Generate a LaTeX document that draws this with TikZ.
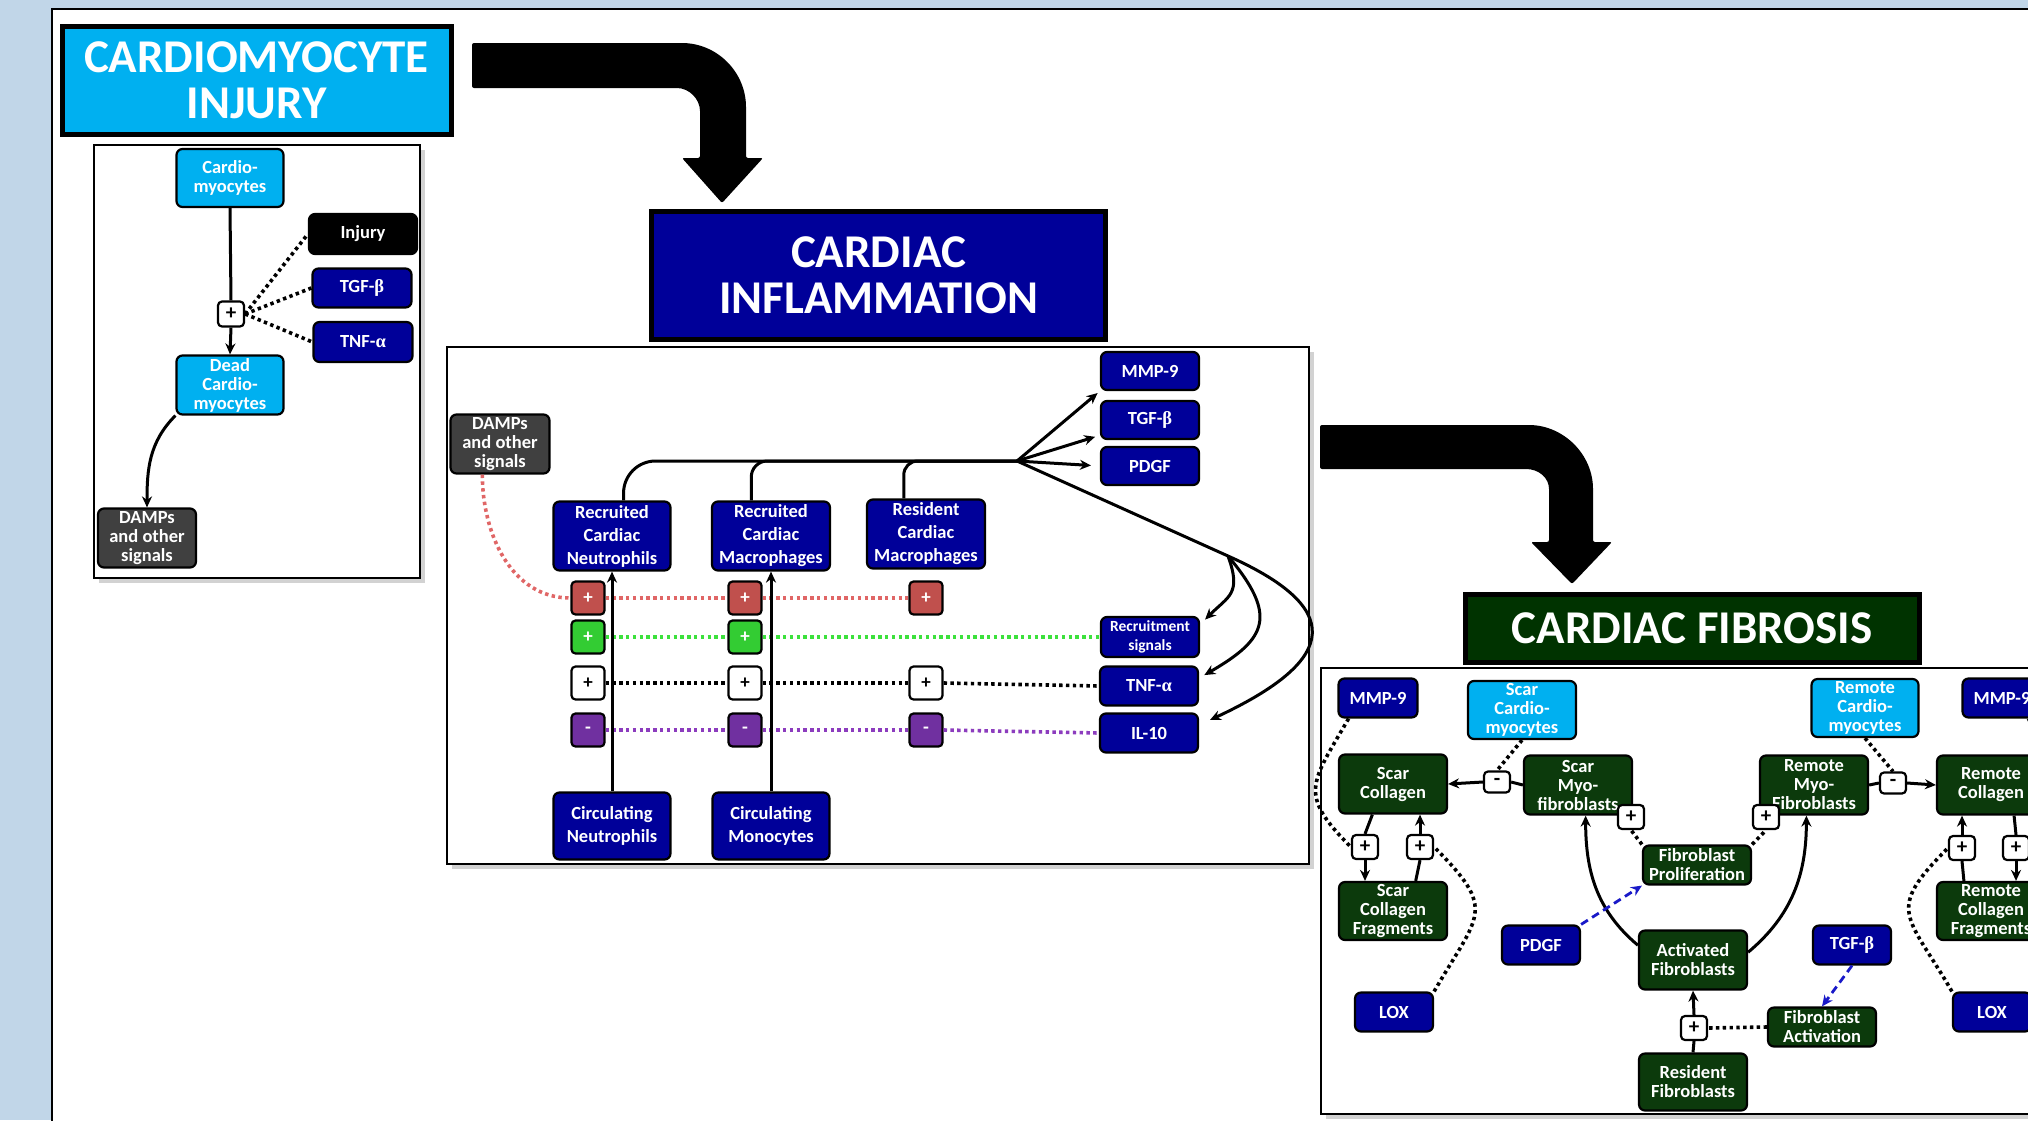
\documentclass[tikz,border=0pt]{standalone}
\usepackage{fontspec}
\setmainfont{Carlito}
\newfontfamily\greekfont{Liberation Serif}
\usetikzlibrary{arrows.meta, positioning, shadows}

\definecolor{bgblue}{RGB}{193,214,232}
\definecolor{cmcyan}{RGB}{0,176,240}
\definecolor{navyblue}{RGB}{0,0,153}
\definecolor{titlegreen}{RGB}{0,51,0}
\definecolor{fibgreen}{RGB}{12,58,12}
\definecolor{damgrey}{RGB}{64,64,64}
\definecolor{sigred}{RGB}{192,80,77}
\definecolor{siggreen}{RGB}{51,204,51}
\definecolor{sigpurple}{RGB}{112,48,160}
\definecolor{dotred}{RGB}{224,102,102}
\definecolor{dotgreen}{RGB}{60,225,60}
\definecolor{dotpurple}{RGB}{140,60,190}
\definecolor{dashblue}{RGB}{25,25,200}

\newcommand{\gk}[1]{{\greekfont #1}}

\begin{document}
\begin{tikzpicture}[x=1pt, y=-1pt, >={Stealth[length=11pt,width=10pt]}, line width=3pt]
  % Estilos de cajas y lineas
  \tikzstyle{cellbox} = [draw, line width=2.2pt, rounded corners=6pt, text=white, align=center, inner sep=0pt, font=\bfseries\fontsize{18.5}{19}\selectfont]
  \tikzstyle{cyanbox} = [cellbox, fill=cmcyan, minimum width=107pt, minimum height=58pt]
  \tikzstyle{navybox} = [cellbox, fill=navyblue]
  \tikzstyle{greenbox} = [cellbox, fill=fibgreen, minimum width=108pt]
  \tikzstyle{greybox} = [cellbox, fill=damgrey, minimum width=99pt, minimum height=59pt]
  \tikzstyle{tallnavy} = [navybox, minimum width=117pt, font=\bfseries\fontsize{18.5}{23}\selectfont]
  \tikzstyle{sigbox} = [draw, line width=2.2pt, rounded corners=4pt, minimum width=33pt, minimum height=33pt, inner sep=0pt, font=\bfseries\fontsize{19}{19}\selectfont]
  \tikzstyle{pmbox} = [draw, fill=white, line width=2.2pt, rounded corners=4pt, minimum width=26pt, minimum height=24pt, inner sep=0pt, font=\bfseries\fontsize{21}{21}\selectfont]
  \tikzstyle{headbox} = [draw, line width=5pt, text=white, align=center, inner sep=0pt, font=\bfseries\fontsize{47}{46}\selectfont]
  \tikzstyle{panel} = [draw, line width=2pt, fill=white, drop shadow={shadow xshift=5pt, shadow yshift=-5pt, opacity=0.35}]
  \tikzstyle{dotline} = [line width=3.6pt, dash pattern=on 3.4pt off 3.4pt]
  \tikzstyle{bluedash} = [dashblue, line width=2.8pt, dash pattern=on 8pt off 5pt]

  \useasboundingbox (0,0) rectangle (2028,1120);
  \clip (0,0) rectangle (2028,1120);
  \fill [bgblue] (0,0) rectangle (2028,1120);
  \draw [fill=white, line width=2.5pt] (52,9) rectangle (2100,1200);

  % Flechas grandes entre etapas
  \fill [rounded corners=2pt] (472,43) -- (680,43) .. controls (717,43) and (746,72) .. (746,109) -- (746,158) -- (763,158) -- (722,203) -- (682,158) -- (700,158) -- (700,113) .. controls (700,99) and (689,88) .. (675,88) -- (472,88) -- cycle;
  \fill [rounded corners=2pt] (1320,425) -- (1527,425) .. controls (1563,425) and (1593,454) .. (1593,491) -- (1593,542) -- (1612,542) -- (1572,584) -- (1531,542) -- (1549,542) -- (1549,491) .. controls (1549,478) and (1539,469) .. (1524,469) -- (1320,469) -- cycle;

  % Titulos
  \node [headbox, fill=cmcyan, minimum width=389pt, minimum height=108pt] (tinj) at (256.5,80) {CARDIOMYOCYTE\\INJURY};
  \node [headbox, fill=navyblue, minimum width=454pt, minimum height=128pt] (tinf) at (878.5,275) {CARDIAC\\INFLAMMATION};
  \node [headbox, fill=titlegreen, minimum width=454pt, minimum height=68pt] (tfib) at (1692,628) {CARDIAC FIBROSIS};

  % Paneles
  \draw [panel] (94,145) rectangle (420,578);
  \draw [panel] (447,347) rectangle (1309,864);
  \draw [panel] (1321,668) rectangle (2080,1114);

  % Panel 1: lesion
  \node [cyanbox] (cm1) at (230,178) {Cardio-\\myocytes};
  \node [cellbox, fill=black, minimum width=108pt, minimum height=40pt] (inj) at (363,234) {Injury};
  \node [navybox, minimum width=99pt, minimum height=39pt] (tgf1) at (362,288) {TGF-\gk{β}};
  \node [navybox, minimum width=99pt, minimum height=40pt] (tnf1) at (363,342) {TNF-\gk{α}};
  \node [pmbox, minimum height=25pt] (p1) at (231,314) {+};
  \node [cyanbox, minimum height=59pt] (dcm) at (230,385) {Dead\\Cardio-\\myocytes};
  \node [greybox, minimum width=98pt] (damps1) at (147,538) {DAMPs\\and other\\signals};

  \draw (cm1.south) -- (p1.north);
  \draw [->] (p1.south) -- (dcm.north);
  \draw [dotline] (p1.east) -- (inj.west);
  \draw [dotline] (p1.east) -- (tgf1.west);
  \draw [dotline] (p1.east) -- (tnf1.west);
  \draw [->] (dcm.south west) to[out=-135,in=90] (damps1.north);

  % Panel 2: inflamacion
  \node [greybox] (damps2) at (500,444) {DAMPs\\and other\\signals};
  \node [tallnavy, minimum height=69pt] (rcn) at (612,536) {Recruited\\Cardiac\\Neutrophils};
  \node [tallnavy, minimum width=118pt, minimum height=69pt] (rcm) at (771,536) {Recruited\\Cardiac\\Macrophages};
  \node [tallnavy, minimum width=118pt, minimum height=69pt] (rsm) at (926,534) {Resident\\Cardiac\\Macrophages};
  \node [tallnavy, minimum height=67pt] (cn) at (612,826) {Circulating\\Neutrophils};
  \node [tallnavy, minimum height=67pt] (cmo) at (771,826) {Circulating\\Monocytes};
  \node [navybox, minimum width=98pt, minimum height=38pt] (mmp2) at (1150,371) {MMP-9};
  \node [navybox, minimum width=98pt, minimum height=38pt] (tgf2) at (1150,420) {TGF-\gk{β}};
  \node [navybox, minimum width=98pt, minimum height=38pt] (pdgf2) at (1150,466) {PDGF};
  \node [navybox, minimum width=98pt, minimum height=40pt, font=\bfseries\fontsize{15.5}{19}\selectfont] (recr) at (1150,637) {Recruitment\\signals};
  \node [navybox, minimum width=98pt, minimum height=39pt] (tnf2) at (1149,686) {TNF-\gk{α}};
  \node [navybox, minimum width=98pt, minimum height=39pt] (il10) at (1149,733) {IL-10};

  \node [sigbox, fill=sigred, text=white] (r1) at (588,598) {+};
  \node [sigbox, fill=sigred, text=white] (r2) at (745,598) {+};
  \node [sigbox, fill=sigred, text=white] (r3) at (926,598) {+};
  \node [sigbox, fill=siggreen, text=white] (g1) at (588,637) {+};
  \node [sigbox, fill=siggreen, text=white] (g2) at (745,637) {+};
  \node [sigbox, fill=white] (w1) at (588,683) {+};
  \node [sigbox, fill=white] (w2) at (745,683) {+};
  \node [sigbox, fill=white] (w3) at (926,683) {+};
  \node [sigbox, fill=sigpurple, text=white] (v1) at (588,730) {-};
  \node [sigbox, fill=sigpurple, text=white] (v2) at (745,730) {-};
  \node [sigbox, fill=sigpurple, text=white] (v3) at (926,730) {-};

  \coordinate (hub) at (1017,461);
  \coordinate (split) at (1228,556);

  \draw [dotline, dotred] (damps2.240) to[out=-90,in=180] (r1.west);
  \draw [dotline, dotred] (r1.east) -- (r2.west);
  \draw [dotline, dotred] (r2.east) -- (r3.west);
  \draw [dotline, dotgreen] (g1.east) -- (g2.west);
  \draw [dotline, dotgreen] (g2.east) -- (recr.west);
  \draw [dotline] (w1.east) -- (w2.west);
  \draw [dotline] (w2.east) -- (w3.west);
  \draw [dotline] (w3.east) -- (tnf2.west);
  \draw [dotline, dotpurple] (v1.east) -- (v2.west);
  \draw [dotline, dotpurple] (v2.east) -- (v3.west);
  \draw [dotline, dotpurple] (v3.east) -- (il10.west);

  \draw [->] (cn.north) -- (rcn.south);
  \draw [->] (cmo.north) -- (rcm.south);
  \draw [rounded corners=32pt] (rcn.72) |- (hub);
  \draw [rounded corners=16pt] (rcm.119) |- (hub);
  \draw [rounded corners=14pt] (rsm.122) |- (hub);
  \draw [->, shorten >=3pt] (hub) -- (mmp2.south west);
  \draw [->, shorten >=5pt] (hub) -- (tgf2.197);
  \draw [->, shorten >=9pt] (hub) -- (pdgf2.west);
  \draw (hub) -- (split);
  \draw [->, shorten >=7pt] (split) to[out=-70,in=45,looseness=1.4] (recr.14);
  \draw [->, shorten >=6pt] (split) to[out=-50,in=30,looseness=1.6] (tnf2.9);
  \draw [->, shorten >=12pt] (split) to[out=-24,in=25,looseness=2.1] (il10.9);

  % Panel 3: fibrosis
  \node [navybox, minimum width=79pt, minimum height=39pt] (mmp3) at (1378,698) {MMP-9};
  \node [cyanbox, minimum width=108pt] (scm) at (1522,710) {Scar\\Cardio-\\myocytes};
  \node [cyanbox] (rcm3) at (1865,708) {Remote\\Cardio-\\myocytes};
  \node [navybox, minimum width=79pt, minimum height=39pt] (mmp4) at (2002,698) {MMP-9};
  \node [greenbox, minimum height=59pt] (scol) at (1393,784) {Scar\\Collagen};
  \node [greenbox, minimum height=59pt] (smyo) at (1578,785) {Scar\\Myo-\\fibroblasts};
  \node [greenbox, minimum height=59pt] (rmyo) at (1814,785) {Remote\\Myo-\\Fibroblasts};
  \node [greenbox, minimum height=59pt] (rcol) at (1991,785) {Remote\\Collagen};
  \node [pmbox, minimum height=21pt] (m1) at (1497,782) {-};
  \node [pmbox, minimum height=21pt] (m2) at (1893,783) {-};
  \node [pmbox] (pp1) at (1631,817) {+};
  \node [pmbox] (pp2) at (1766,817) {+};
  \node [pmbox] (pa) at (1365,847) {+};
  \node [pmbox] (pb) at (1420,847) {+};
  \node [pmbox] (pc) at (1962,848) {+};
  \node [pmbox] (pd) at (2016,848) {+};
  \node [greenbox, minimum height=39pt] (fprol) at (1697,865) {Fibroblast\\Proliferation};
  \node [greenbox, minimum height=58pt] (scf) at (1393,911) {Scar\\Collagen\\Fragments};
  \node [greenbox, minimum height=58pt] (rcf) at (1991,911) {Remote\\Collagen\\Fragments};
  \node [navybox, minimum width=78pt, minimum height=39pt] (pdgf3) at (1541,945) {PDGF};
  \node [navybox, minimum width=78pt, minimum height=39pt] (tgf3) at (1852,945) {TGF-\gk{β}};
  \node [greenbox, minimum height=59pt] (act) at (1693,960) {Activated\\Fibroblasts};
  \node [navybox, minimum width=78pt, minimum height=39pt] (lox1) at (1394,1012) {LOX};
  \node [navybox, minimum width=78pt, minimum height=39pt] (lox2) at (1992,1012) {LOX};
  \node [pmbox] (pf) at (1694,1028) {+};
  \node [greenbox, minimum height=39pt] (fact) at (1822,1027) {Fibroblast\\Activation};
  \node [greenbox, minimum height=57pt] (res) at (1693,1082) {Resident\\Fibroblasts};

  \draw (smyo.west) -- (m1.east);
  \draw [->] (m1.west) -- (scol.east);
  \draw [dotline] (scm.south) -- (m1.north);
  \draw (rmyo.east) -- (m2.west);
  \draw [->] (m2.east) -- (rcol.west);
  \draw [dotline] (rcm3.south) -- (m2.north);
  \draw [->] (act.165) to[out=140,in=-90] (smyo.284);
  \draw [->] (act.8) to[out=40,in=-90] (rmyo.256);
  \draw (res.north) -- (pf.south);
  \draw [->] (pf.north) -- (act.south);
  \draw [dotline] (fact.west) -- (pf.east);
  \draw [bluedash, ->] (tgf3.south) -- (fact.north);
  \draw [bluedash, ->] (pdgf3.north east) -- (fprol.south west);
  \draw [dotline] (fprol.north west) -- (pp1.south);
  \draw [dotline] (fprol.north east) -- (pp2.south);
  \draw (scol.236) -- (pa.north);
  \draw [->] (pa.south) -- (pa.south |- scf.north);
  \draw (scf.53) -- (pb.south);
  \draw [->] (pb.north) -- (pb.north |- scol.south);
  \draw (rcol.307) -- (pd.north);
  \draw [->] (pd.south) -- (pd.south |- rcf.north);
  \draw (rcf.132) -- (pc.south);
  \draw [->] (pc.north) -- (pc.north |- rcol.south);
  \draw [dotline] (mmp3.215) to[out=-120,in=135,looseness=1.5] (pa.west);
  \draw [dotline] (lox1.north east) to[out=60,in=-45,looseness=1.6] (pb.east);
  \draw [dotline] (lox2.north west) to[out=120,in=-135,looseness=1.6] (pc.west);
  \draw [dotline] (mmp4.-38) to[out=-60,in=0,looseness=1.5] (pd.east);
\end{tikzpicture}
\end{document}
